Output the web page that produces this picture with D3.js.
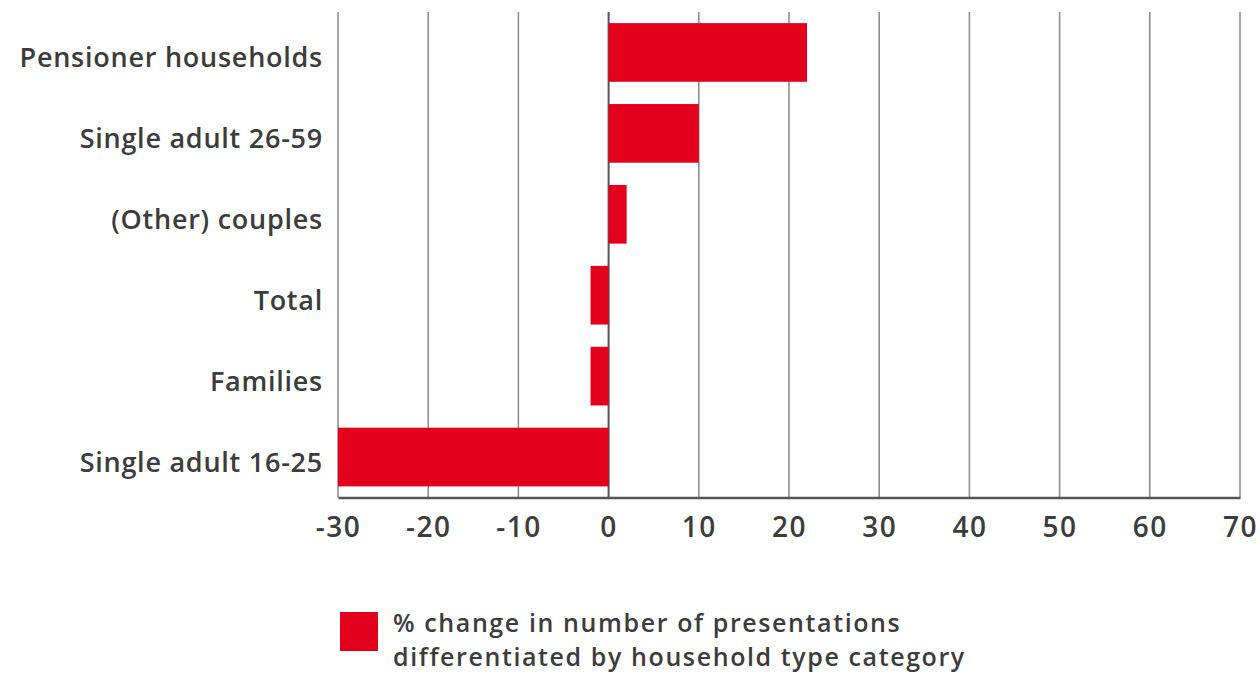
<!DOCTYPE html>
<html><head><meta charset="utf-8">
<script src="https://cdn.jsdelivr.net/npm/d3@7"></script>
<style>html,body{margin:0;padding:0;background:#fff;}svg{display:block;}</style>
</head><body>
<svg id="chart" width="1260" height="674"></svg>
<script>
const categories = ["Pensioner households","Single adult 26-59","(Other) couples","Total","Families","Single adult 16-25"];
const values = [22, 10, 2, -2, -2, -30];
const tickValues = [-30,-20,-10,0,10,20,30,40,50,60,70];
const legendLines = ["% change in number of presentations","differentiated by household type category"];

(function(){
const svg = d3.select("#chart");
const font = "'Open Sans', Lato, sans-serif";
const textColor = "#3c3c3c";
const barColor = "#e2001a";
const pLeft = 338, pRight = 1240, pTop = 12, pBottom = 497.5;

const x = d3.scaleLinear().domain([-30,70]).range([pLeft,pRight]);
const y = d3.scaleBand().domain(categories).range([pTop,pBottom]).paddingInner(0.275).paddingOuter(0.1375);

// gridlines
svg.append("g").selectAll("line").data(tickValues).join("line")
  .attr("x1", d=>x(d)).attr("x2", d=>x(d))
  .attr("y1", pTop).attr("y2", pBottom)
  .attr("stroke", d=>d===0?"#555":"#888")
  .attr("stroke-width", d=>d===0?2:1.5);

// bars
svg.append("g").selectAll("rect").data(values).join("rect")
  .attr("x", d=>x(Math.min(0,d)))
  .attr("width", d=>Math.abs(x(d)-x(0)))
  .attr("y", (d,i)=>y(categories[i]))
  .attr("height", y.bandwidth())
  .attr("fill", barColor);

// x axis
const xAxis = svg.append("g").attr("transform", `translate(0,${pBottom})`)
  .call(d3.axisBottom(x).tickValues(tickValues).tickSize(0).tickPadding(20).tickFormat(d=>String(d)));
xAxis.select(".domain").attr("stroke","#555").attr("stroke-width",2.5);
xAxis.selectAll("text").attr("font-family",font).attr("font-size",28).attr("font-weight",600)
  .attr("letter-spacing","1.5px").attr("fill",textColor);

// y axis labels
const yAxis = svg.append("g").attr("transform", `translate(${pLeft},0)`)
  .call(d3.axisLeft(y).tickSize(0).tickPadding(15));
yAxis.select(".domain").remove();
yAxis.selectAll("text").attr("font-family",font).attr("font-size",27).attr("font-weight",600)
  .attr("letter-spacing","0.75px").attr("fill",textColor)
  .attr("dy","0.55em");

// legend
const lg = svg.append("g");
lg.append("rect").attr("x",340).attr("y",612).attr("width",38).attr("height",39).attr("fill",barColor);
lg.selectAll("text").data(legendLines).join("text")
  .attr("x",393).attr("y",(d,i)=>632+i*34)
  .attr("font-family",font).attr("font-size",25).attr("font-weight",600)
  .attr("letter-spacing","1.6px").attr("fill",textColor)
  .text(d=>d);
})();
</script>
</body></html>
